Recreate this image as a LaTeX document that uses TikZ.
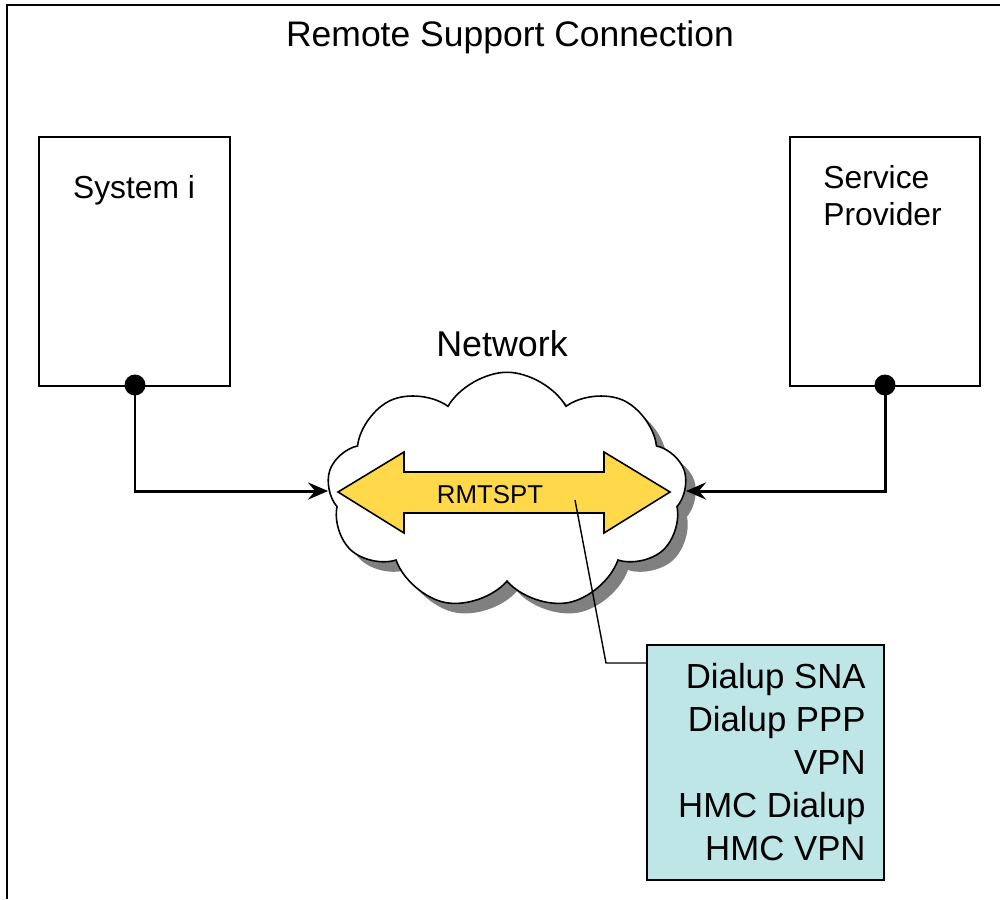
\documentclass[tikz,border=0pt]{standalone}
\usepackage{fontspec}
\setmainfont{Liberation Sans}
\usetikzlibrary{shapes.symbols,arrows.meta}
\definecolor{arrowyellow}{HTML}{FFD94A}
\definecolor{boxcyan}{HTML}{BEE6E6}
\begin{document}
\begin{tikzpicture}[x=0.02cm,y=-0.02cm,
  frame/.style={line width=1.1pt},
  boxnode/.style={draw,line width=1.1pt,rectangle,inner sep=0pt},
  dotnode/.style={circle,fill=black,inner sep=0pt,minimum size=0.42cm},
  link/.style={line width=1.7pt,-{Stealth[length=0.4cm,width=0.34cm,inset=0.14cm]}},
  txt/.style={inner sep=0pt,font=\fontsize{18.1}{21}\selectfont},
  cloudnode/.style={cloud,cloud puffs=9,cloud puff arc=120,cloud ignores aspect,
     minimum width=7.2cm,minimum height=4.75cm,inner sep=0pt}]
\useasboundingbox (0,0) rectangle (1000,899);
% frame
\draw[frame] (1000,5) -- (7,5) -- (7,899);
% title
\node[txt,anchor=base,font=\fontsize{20.2}{24}\selectfont] (title) at (510,46) {Remote Support Connection};
% boxes
\node[boxnode,minimum width=3.82cm,minimum height=4.98cm] (sys) at (134.5,261.5) {};
\node[txt,anchor=base] (systxt) at (134,198) {System i};
\node[boxnode,minimum width=3.8cm,minimum height=4.98cm] (prov) at (885,261.5) {};
\node[txt,anchor=north west,align=left,font=\fontsize{18.1}{21}\selectfont] (provtxt) at (823,165) {Service\\Provider};
% dots
\node[dotnode] (ldot) at (135,385) {};
\node[dotnode] (rdot) at (885,385) {};
% network label
\node[txt,anchor=base,font=\fontsize{20.4}{24}\selectfont] (nettxt) at (502,356) {Network};
% cloud with shadow
\node[cloudnode,fill=black!50] (netshadow) at (517,501) {};
\node[cloudnode,draw,fill=white,line width=0.9pt] (net) at (507,491) {};
% double arrow
\draw[fill=arrowyellow,line width=0.9pt,line join=miter]
  (338,492) -- (404,452) -- (404,472) -- (604,472) -- (604,452) -- (670,492)
  -- (604,533) -- (604,513) -- (404,513) -- (404,533) -- cycle;
\node[txt,anchor=base,font=\fontsize{14.7}{17}\selectfont] (rmt) at (490,503) {RMTSPT};
% connectors
\draw[link] (ldot.center) |- (net.west);
\draw[link] (rdot.center) |- (net.east);
% options box
\node[boxnode,fill=boxcyan,minimum width=4.74cm,minimum height=4.7cm] (opts) at (765.5,762.5) {};
\node[txt,anchor=north east,align=right,font=\fontsize{19.8}{24.4}\selectfont] (optstxt) at (866,663)
  {Dialup SNA\\Dialup PPP\\VPN\\HMC Dialup\\HMC VPN};
% callout
\coordinate (cs) at (575,500);
\coordinate (cc) at (606,663);
\draw[line width=0.8pt] (cs) -- (cc) -- (opts.west |- cc);
\end{tikzpicture}
\end{document}
